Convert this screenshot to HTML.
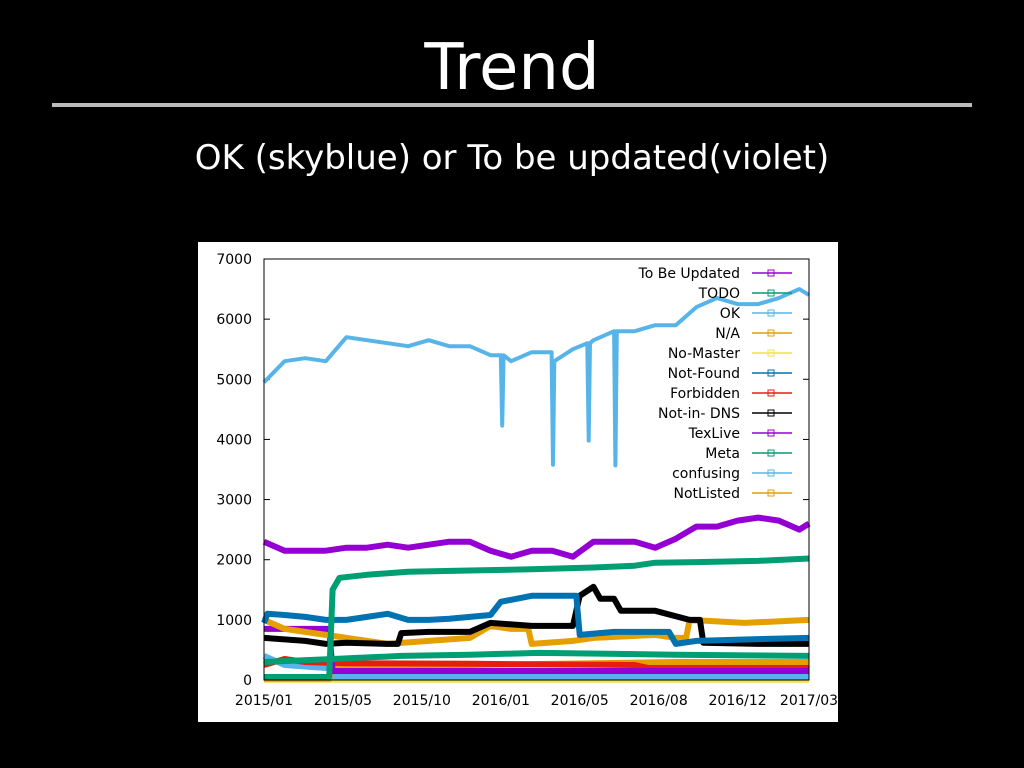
<!DOCTYPE html>
<html><head><meta charset="utf-8"><style>
html,body{margin:0;padding:0;background:#000;width:1024px;height:768px;overflow:hidden}
#title{position:absolute;left:0;width:1024px;top:30px;text-align:center;color:#fff;font:64px "DejaVu Sans","Liberation Sans",sans-serif;line-height:76px}
#rule{position:absolute;left:52px;top:103px;width:920px;height:4px;background:#bbb}
#sub{position:absolute;left:0;width:1024px;top:136px;text-align:center;color:#fff;font:34px "DejaVu Sans","Liberation Sans",sans-serif;line-height:44px}
#chart{position:absolute;left:0;top:0}
</style></head><body>
<div id="title">Trend</div>
<div id="rule"></div>
<div id="sub">OK (skyblue) or To be updated(violet)</div>
<svg id="chart" width="1024" height="768"></svg>
<script>
const xTickLabels=["2015/01","2015/05","2015/10","2016/01","2016/05","2016/08","2016/12","2017/03"];
const yTicks=[0,1000,2000,3000,4000,5000,6000,7000];
const seriesNames=["To Be Updated","TODO","OK","N/A","No-Master","Not-Found","Forbidden","Not-in- DNS","TexLive","Meta","confusing","NotListed"];
const colors=["#9400d3","#009e73","#56b4e9","#e69f00","#f0e442","#0072b2","#e51e10","#000000","#9400d3","#009e73","#56b4e9","#e69f00"];
const tbuDays=[0,30,60,90,120,150,180,210,240,270,300,330,360,390,420,450,480,510,540,570,600,630,660,690,720,750,780,794];
const tbuVals=[2300,2150,2150,2150,2200,2200,2250,2200,2250,2300,2300,2150,2050,2150,2150,2050,2300,2300,2300,2200,2350,2550,2550,2650,2700,2650,2500,2600];
const okDays=[0,30,60,90,120,150,180,210,240,270,300,330,345,347,349,360,390,419,421,423,450,471,473,475,480,510,512,514,540,570,600,630,660,690,720,750,780,794];
const okVals=[4950,5300,5350,5300,5700,5650,5600,5550,5650,5550,5550,5400,5400,4230,5400,5300,5450,5450,3580,5300,5500,5600,3980,5600,5650,5800,3570,5800,5800,5900,5900,6200,6350,6250,6250,6350,6500,6400];
const metaDays=[0,95,100,110,150,210,300,390,480,540,570,630,720,794];
const metaVals=[50,50,1500,1700,1750,1800,1820,1840,1870,1900,1950,1960,1980,2020];
const nfDays=[0,5,30,60,90,120,150,180,210,240,270,300,330,345,390,455,460,510,570,590,600,630,720,794];
const nfVals=[950,1100,1080,1050,1000,1000,1050,1100,1000,1000,1020,1050,1080,1300,1400,1400,750,800,800,800,600,650,680,700];
const dnsDays=[0,60,90,120,180,195,200,240,300,330,390,450,460,480,490,510,520,570,620,635,640,720,794];
const dnsVals=[700,650,600,620,600,600,780,800,800,950,900,900,1400,1550,1350,1350,1150,1150,1000,1000,620,600,600];
const naDays=[0,30,90,120,150,180,240,300,330,360,385,390,450,480,570,600,615,620,700,794];
const naVals=[1000,850,750,700,650,600,650,700,900,850,850,600,650,700,750,700,700,1000,950,1000];
const nlDays=[0,95,100,300,600,794];
const nlVals=[20,20,250,250,300,300];
const todoDays=[0,100,200,300,400,600,794];
const todoVals=[300,350,400,420,450,420,400];
const forbDays=[0,30,60,120,300,540,560,600,794];
const forbVals=[250,350,300,280,270,250,200,200,200];
const texDays=[0,95,100,794];
const texVals=[850,850,150,150];
const confDays=[0,30,90,95,100,794];
const confVals=[400,250,200,200,50,50];
const nmDays=[0,794];
const nmVals=[5,5];
const seriesDays=[tbuDays,todoDays,okDays,naDays,nmDays,nfDays,forbDays,dnsDays,texDays,metaDays,confDays,nlDays];
const seriesVals=[tbuVals,todoVals,okVals,naVals,nmVals,nfVals,forbVals,dnsVals,texVals,metaVals,confVals,nlVals];
const drawOrder=[4,10,11,6,8,1,3,7,5,9,0,2];

const NS="http://www.w3.org/2000/svg";
const svg=document.getElementById('chart');
const L=264,R=809,T=259,B=680,DMAX=794,VMAX=7000;
const xs=d=>L+(R-L)*d/DMAX;
const ys=v=>B-(B-T)*v/VMAX;
function mk(tag,attrs,parent){const e=document.createElementNS(NS,tag);for(const k in attrs)e.setAttribute(k,attrs[k]);(parent||svg).appendChild(e);return e;}

const bg=mk('rect',{x:198,y:242,width:640,height:480,fill:'#fff'});



const gy=mk('g',{});


yTicks.forEach(v=>{
  const t=mk('text',{x:252,y:ys(v)+5,'text-anchor':'end','font-family':'DejaVu Sans, Liberation Sans, sans-serif','font-size':'14',fill:'#000'},gy);
  t.textContent=v;
  
  
  mk('line',{x1:L,x2:L+6,y1:ys(v),y2:ys(v),stroke:'#000'},gy);
  mk('line',{x1:R,x2:R-6,y1:ys(v),y2:ys(v),stroke:'#000'},gy);
});
const gx=mk('g',{});


xTickLabels.forEach((lab,i)=>{
  const d=i*115;
  const x=Math.min(xs(d),R);
  const t=mk('text',{x:x,y:705,'text-anchor':'middle','font-family':'DejaVu Sans, Liberation Sans, sans-serif','font-size':'14',fill:'#000'},gx);
  t.textContent=lab;
  
  
});

drawOrder.forEach(i=>{
  const pts=seriesDays[i].map((d,j)=>xs(d).toFixed(1)+','+ys(seriesVals[i][j]).toFixed(1)).join(' ');
  const w=(i===2)?4:6;
  const p=mk('polyline',{points:pts,fill:'none',stroke:colors[i],'stroke-width':w,'stroke-linejoin':'round'});
  
  
});

const frame=mk('rect',{x:L,y:T,width:R-L,height:B-T,fill:'none',stroke:'#000','stroke-width':1});



const lg=mk('g',{});


seriesNames.forEach((n,i)=>{
  const y=273+i*20;
  const t=mk('text',{x:740,y:y+5,'text-anchor':'end','font-family':'DejaVu Sans, Liberation Sans, sans-serif','font-size':'14',fill:'#000'},lg);
  t.textContent=n;
  
  
  mk('line',{x1:752,x2:792,y1:y,y2:y,stroke:colors[i],'stroke-width':1.5},lg);
  mk('rect',{x:768,y:y-3,width:6,height:6,fill:'none',stroke:colors[i]},lg);
});
</script>
</body></html>
